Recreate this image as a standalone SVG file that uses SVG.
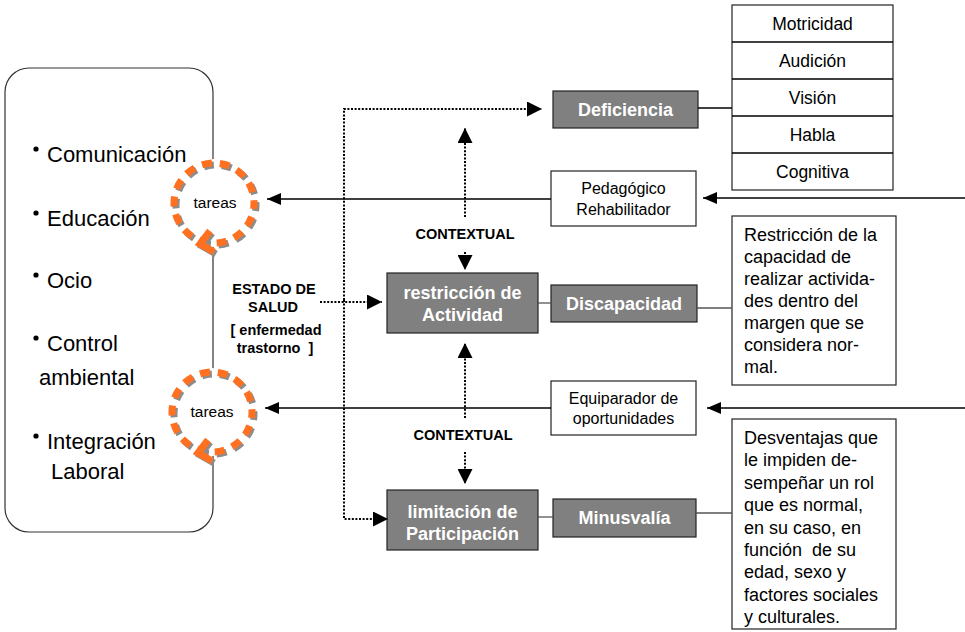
<svg xmlns="http://www.w3.org/2000/svg" width="965" height="632" viewBox="0 0 965 632">
<defs>
<marker id="ah" markerUnits="userSpaceOnUse" markerWidth="15" markerHeight="15" refX="15" refY="7.5" orient="auto"><path d="M0,0 L15,7.5 L0,15 z" fill="#000"/></marker>
<marker id="ahs" markerUnits="userSpaceOnUse" markerWidth="14" markerHeight="12" refX="14" refY="6" orient="auto"><path d="M0,0 L14,6 L0,12 z" fill="#000"/></marker>
</defs>
<style>
text{font-family:"Liberation Sans",Arial,sans-serif;fill:#000}
.list{font-size:22px}
.lbl{font-size:18px;font-weight:bold;fill:#fff;text-anchor:middle}
.gbox{fill:#808080;stroke:#222;stroke-width:1.2}
.wbox{fill:#fff;stroke:#222;stroke-width:1.2}
.reg{font-size:16px;text-anchor:middle}
.tbl{font-size:17.5px;text-anchor:middle}
.desc{font-size:18px}
.ctx{font-size:14.5px;font-weight:bold;text-anchor:middle}
.tar{font-size:15.5px;text-anchor:middle}
.dot{fill:none;stroke:#000;stroke-width:2;stroke-dasharray:2 1.6}
.sol{fill:none;stroke:#000;stroke-width:1.3}
.gl{fill:none;stroke:#555;stroke-width:1.3}
.ring{fill:none;stroke:#FF7020;stroke-width:7;stroke-dasharray:10 8}
.ringsh{fill:none;stroke:#8c8c8c;stroke-width:7;stroke-dasharray:10 8}
.chev{fill:none;stroke:#FF7020;stroke-width:7;stroke-linejoin:miter}
.chevsh{fill:none;stroke:#8c8c8c;stroke-width:7;stroke-linejoin:miter}
</style>
<rect width="965" height="632" fill="#fff"/>

<g id="areas">
<rect x="5" y="68" width="208" height="464" rx="24" fill="#fff" stroke="#333" stroke-width="1.2"/>
<circle cx="36" cy="149" r="2.6"/><text class="list" x="47" y="162">Comunicación</text>
<circle cx="36" cy="213" r="2.6"/><text class="list" x="47" y="226">Educación</text>
<circle cx="36" cy="275" r="2.6"/><text class="list" x="47" y="288">Ocio</text>
<circle cx="36" cy="338" r="2.6"/><text class="list" x="47" y="351">Control</text>
<text class="list" x="39" y="385">ambiental</text>
<circle cx="36" cy="436" r="2.6"/><text class="list" x="47" y="449">Integración</text>
<text class="list" x="51" y="479">Laboral</text>
</g>

<g id="tareas1">
<circle cx="214" cy="203" r="44" fill="#fff"/>
<circle class="ringsh" cx="216" cy="205" r="40" stroke-dashoffset="4"/>
<circle class="ring" cx="214" cy="203" r="40" stroke-dashoffset="4"/>
<polyline class="chevsh" points="212,233 202,246 216,254"/>
<polyline class="chev" points="210,231 200,244 214,252"/>
<text class="tar" x="215" y="208">tareas</text>
</g>

<g id="tareas2">
<circle cx="212" cy="412" r="44" fill="#fff"/>
<circle class="ringsh" cx="214" cy="414" r="40" stroke-dashoffset="4"/>
<circle class="ring" cx="212" cy="412" r="40" stroke-dashoffset="4"/>
<polyline class="chevsh" points="210,442 200,455 214,463"/>
<polyline class="chev" points="208,440 198,453 212,461"/>
<text class="tar" x="212" y="417">tareas</text>
</g>

<g id="estado">
<text class="ctx" x="274" y="294">ESTADO DE</text>
<text class="ctx" x="273" y="312">SALUD</text>
<text class="ctx" x="276" y="335">[ enfermedad</text>
<text class="ctx" x="275" y="353">trastorno&#160; ]</text>
</g>

<g id="contextual1"><text class="ctx" x="465" y="239">CONTEXTUAL</text></g>
<g id="contextual2"><text class="ctx" x="463" y="440">CONTEXTUAL</text></g>

<g id="deficiencia">
<rect class="gbox" x="553" y="91" width="145" height="37"/>
<text class="lbl" x="625.5" y="116">Deficiencia</text>
</g>
<g id="restriccion">
<rect class="gbox" x="387" y="273" width="151" height="60"/>
<text class="lbl" x="462.5" y="299">restricción de</text>
<text class="lbl" x="462.5" y="321">Actividad</text>
</g>
<g id="discapacidad">
<rect class="gbox" x="551" y="285" width="146" height="37"/>
<text class="lbl" x="624" y="310">Discapacidad</text>
</g>
<g id="limitacion">
<rect class="gbox" x="387" y="490" width="151" height="60"/>
<text class="lbl" x="462.5" y="518">limitación de</text>
<text class="lbl" x="462.5" y="540">Participación</text>
</g>
<g id="minusvalia">
<rect class="gbox" x="553" y="499" width="143" height="38"/>
<text class="lbl" x="624.5" y="524">Minusvalía</text>
</g>
<g id="pedagogico">
<rect class="wbox" x="551" y="171" width="145" height="55"/>
<text class="reg" x="623.5" y="194">Pedagógico</text>
<text class="reg" x="623.5" y="215">Rehabilitador</text>
</g>
<g id="equiparador">
<rect class="wbox" x="551" y="381" width="145" height="54"/>
<text class="reg" x="623.5" y="404">Equiparador de</text>
<text class="reg" x="623.5" y="424">oportunidades</text>
</g>

<g id="tipos">
<rect class="wbox" x="732" y="5" width="161" height="185"/>
<line class="sol" x1="732" y1="42" x2="893" y2="42"/>
<line class="sol" x1="732" y1="79" x2="893" y2="79"/>
<line class="sol" x1="732" y1="116" x2="893" y2="116"/>
<line class="sol" x1="732" y1="153" x2="893" y2="153"/>
<text class="tbl" x="812.5" y="30">Motricidad</text>
<text class="tbl" x="812.5" y="67">Audición</text>
<text class="tbl" x="812.5" y="104">Visión</text>
<text class="tbl" x="812.5" y="141">Habla</text>
<text class="tbl" x="812.5" y="178">Cognitiva</text>
</g>

<g id="def-discapacidad">
<rect class="wbox" x="732" y="216" width="164" height="169"/>
<text class="desc" x="744" y="241">Restricción de la</text>
<text class="desc" x="744" y="263">capacidad de</text>
<text class="desc" x="744" y="285">realizar activida-</text>
<text class="desc" x="744" y="307">des dentro del</text>
<text class="desc" x="744" y="329">margen que se</text>
<text class="desc" x="744" y="351">considera nor-</text>
<text class="desc" x="744" y="373">mal.</text>
</g>

<g id="def-minusvalia">
<rect class="wbox" x="732" y="419" width="164" height="210"/>
<text class="desc" x="744" y="444">Desventajas que</text>
<text class="desc" x="744" y="466.4">le impiden de-</text>
<text class="desc" x="744" y="488.8">sempeñar un rol</text>
<text class="desc" x="744" y="511.2">que es normal,</text>
<text class="desc" x="744" y="533.6">en su caso, en</text>
<text class="desc" x="744" y="556">función&#160; de su</text>
<text class="desc" x="744" y="578.4">edad, sexo y</text>
<text class="desc" x="744" y="600.8">factores sociales</text>
<text class="desc" x="744" y="623.2">y culturales.</text>
</g>

<g id="connectors">
<path class="dot" d="M344,300 V109 H542" marker-end="url(#ah)"/>
<path class="dot" d="M344,300 V519 H388" marker-end="url(#ah)"/>
<path class="dot" d="M320,302 H382" marker-end="url(#ah)"/>
<path class="dot" d="M465,217 V128" marker-end="url(#ah)"/>
<path class="dot" d="M465,252 V270" marker-end="url(#ah)"/>
<path class="dot" d="M465,418 V343" marker-end="url(#ah)"/>
<path class="dot" d="M465,452 V484" marker-end="url(#ah)"/>
<line class="sol" x1="551" y1="199" x2="267" y2="199" marker-end="url(#ahs)"/>
<line class="sol" x1="551" y1="408" x2="265" y2="408" marker-end="url(#ahs)"/>
<line class="sol" x1="965" y1="198" x2="703" y2="198" marker-end="url(#ahs)"/>
<line class="sol" x1="965" y1="408" x2="707" y2="408" marker-end="url(#ahs)"/>
<line class="sol" x1="698" y1="108" x2="732" y2="108"/>
<line class="gl" x1="538" y1="303" x2="551" y2="303"/>
<line class="gl" x1="697" y1="308" x2="732" y2="308"/>
<line class="gl" x1="538" y1="517" x2="553" y2="517"/>
<line class="gl" x1="696" y1="513" x2="732" y2="513"/>
</g>
</svg>
